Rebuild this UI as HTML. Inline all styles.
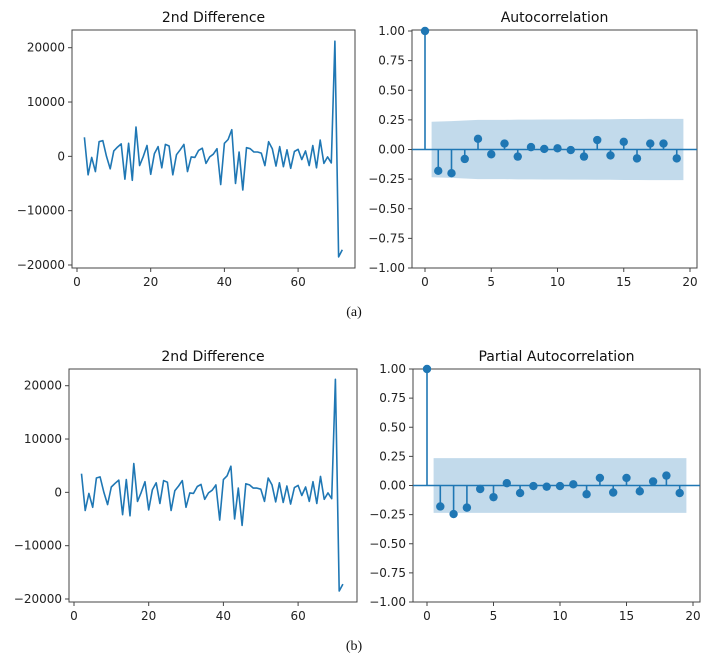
<!DOCTYPE html>
<html><head><meta charset="utf-8">
<style>
html,body{margin:0;padding:0;background:#fff;}
svg{display:block;font-family:"DejaVu Sans","Liberation Sans",sans-serif;}
.tick{font-size:12px;fill:#222;}
.title{font-size:14px;fill:#111;}
.cap{font-family:"Liberation Serif",serif;font-size:14px;fill:#111;}
</style></head>
<body>
<svg id="fig" width="710" height="653" viewBox="0 0 710 653"></svg>
<script>
const diffX = [];
for (let i = 2; i <= 72; i++) diffX.push(i);
const diffValues = [3500,-3400,-200,-2800,2700,2900,0,-2300,1000,1700,2300,-4200,2400,-4400,5400,-1700,0,2000,-3300,500,1800,-2100,2200,1900,-3400,300,1200,2200,-2800,-100,-200,1100,1500,-1300,-100,400,1400,-5200,2400,3100,4900,-5000,800,-6200,1600,1400,800,800,600,-1700,2700,1400,-1800,1800,-1900,1200,-2200,900,1300,-600,1000,-1700,2000,-2100,3000,-1300,-100,-1200,21200,-18500,-17200];
const diffYTicks = [-20000,-10000,0,10000,20000];
const diffXTicks = [0,20,40,60];
const lags = [0,1,2,3,4,5,6,7,8,9,10,11,12,13,14,15,16,17,18,19];
const acfValues = [1,-0.18,-0.2,-0.08,0.09,-0.04,0.05,-0.06,0.02,0.005,0.01,-0.005,-0.06,0.08,-0.05,0.065,-0.075,0.05,0.05,-0.075];
const acfConf = [0.235,0.235,0.24,0.245,0.25,0.25,0.25,0.252,0.252,0.253,0.253,0.254,0.254,0.255,0.256,0.257,0.257,0.258,0.258,0.258];
const pacfValues = [1,-0.18,-0.245,-0.19,-0.03,-0.1,0.02,-0.065,-0.005,-0.01,-0.005,0.01,-0.075,0.065,-0.06,0.065,-0.05,0.035,0.085,-0.065];
const pacfConf = [0.235,0.235,0.235,0.235,0.235,0.235,0.235,0.235,0.235,0.235,0.235,0.235,0.235,0.235,0.235,0.235,0.235,0.235,0.235,0.235];
const corrYTicks = [-1,-0.75,-0.5,-0.25,0,0.25,0.5,0.75,1];
const corrXTicks = [0,5,10,15,20];

const NS = "http://www.w3.org/2000/svg";
const svg = document.getElementById('fig');
const C = "#1f77b4";
function mk(tag, attrs, parent) {
  const e = document.createElementNS(NS, tag);
  for (const k in attrs) e.setAttribute(k, attrs[k]);
  (parent || svg).appendChild(e);
  return e;
}
function lin(d0, d1, r0, r1) { return v => r0 + (v - d0) * (r1 - r0) / (d1 - d0); }

function frame(g, box, sx, sy, xt, yt, fmt, title, name) {
  const t = mk('text', {x: (box.l + box.r) / 2, y: box.t - 8, 'text-anchor': 'middle', class: 'title'}, g);
  t.textContent = title;
  
  
  const fr = mk('rect', {x: box.l, y: box.t, width: box.r - box.l, height: box.b - box.t, fill: 'none', stroke: '#444', 'stroke-width': 1}, g);
  
  
  xt.forEach(v => {
    const x = sx(v);
    mk('line', {x1: x, x2: x, y1: box.b, y2: box.b + 4, stroke: '#444'}, g);
    const tx = mk('text', {x: x, y: box.b + 18, 'text-anchor': 'middle', class: 'tick'}, g);
    tx.textContent = v;
    
    
  });
  yt.forEach(v => {
    const y = sy(v);
    mk('line', {x1: box.l - 4, x2: box.l, y1: y, y2: y, stroke: '#444'}, g);
    const ty = mk('text', {x: box.l - 7, y: y + 4, 'text-anchor': 'end', class: 'tick'}, g);
    ty.textContent = fmt(v);
    
    
  });
}
const fmtInt = v => (v < 0 ? '\u2212' + Math.abs(v) : '' + v);
const fmt2 = v => (v < 0 ? '\u2212' + Math.abs(v).toFixed(2) : v.toFixed(2));

function linePanel(box, x0px, x20px, y20kpx, ym20kpx, name) {
  const g = mk('g', {});
  
  
  const sx = lin(0, 20, x0px, x20px);
  const sy = lin(20000, -20000, y20kpx, ym20kpx);
  frame(g, box, sx, sy, diffXTicks, diffYTicks, fmtInt, '2nd Difference', name);
  const pts = diffValues.map((v, i) => sx(diffX[i]).toFixed(1) + ',' + sy(v).toFixed(1)).join(' ');
  const pl = mk('polyline', {points: pts, fill: 'none', stroke: C, 'stroke-width': 1.6, 'stroke-linejoin': 'round'}, g);
  
  
}

function corrPanel(box, x0px, x20px, y1px, ym1px, vals, conf, title, name) {
  const g = mk('g', {});
  
  
  const sx = lin(0, 20, x0px, x20px);
  const sy = lin(1, -1, y1px, ym1px);
  // confidence band
  let up = [], lo = [];
  for (let i = 1; i < lags.length; i++) {
    const xa = i === 1 ? lags[i] - 0.5 : lags[i];
    const xb = i === lags.length - 1 ? lags[i] + 0.5 : lags[i];
    up.push(sx(xa).toFixed(1) + ',' + sy(conf[i]).toFixed(1));
    if (xb !== lags[i] || i === lags.length - 1) up.push(sx(xb).toFixed(1) + ',' + sy(conf[i]).toFixed(1));
    lo.unshift(sx(xa).toFixed(1) + ',' + sy(-conf[i]).toFixed(1));
    if (i === lags.length - 1) lo.unshift(sx(xb).toFixed(1) + ',' + sy(-conf[i]).toFixed(1));
  }
  const band = mk('polygon', {points: up.concat(lo).join(' '), fill: C, 'fill-opacity': 0.27, stroke: 'none'}, g);
  
  
  frame(g, box, sx, sy, corrXTicks, corrYTicks, fmt2, title, name);
  const zl = mk('line', {x1: box.l, x2: box.r, y1: sy(0), y2: sy(0), stroke: C, 'stroke-width': 1.6}, g);
  
  
  vals.forEach((v, i) => {
    const x = sx(lags[i]);
    const s = mk('line', {x1: x, x2: x, y1: sy(0), y2: sy(v), stroke: C, 'stroke-width': 1.6}, g);
    
    
    const c = mk('circle', {cx: x, cy: sy(v), r: 4.2, fill: C}, g);
    
    
  });
}

linePanel({l: 72, r: 355, t: 30, b: 268}, 77, 150.7, 47.7, 265, 'diff-plot-a');
corrPanel({l: 412, r: 697, t: 30, b: 268}, 425, 690, 31, 268, acfValues, acfConf, 'Autocorrelation', 'acf-plot');
linePanel({l: 69, r: 357, t: 369, b: 602}, 74, 148.7, 385.7, 599, 'diff-plot-b');
corrPanel({l: 413, r: 700, t: 369, b: 602}, 427, 693, 369, 602, pacfValues, pacfConf, 'Partial Autocorrelation', 'pacf-plot');

const ca = mk('text', {x: 354, y: 316, 'text-anchor': 'middle', class: 'cap'});
ca.textContent = '(a)';


const cb = mk('text', {x: 354, y: 650, 'text-anchor': 'middle', class: 'cap'});
cb.textContent = '(b)';


</script>
</body></html>
